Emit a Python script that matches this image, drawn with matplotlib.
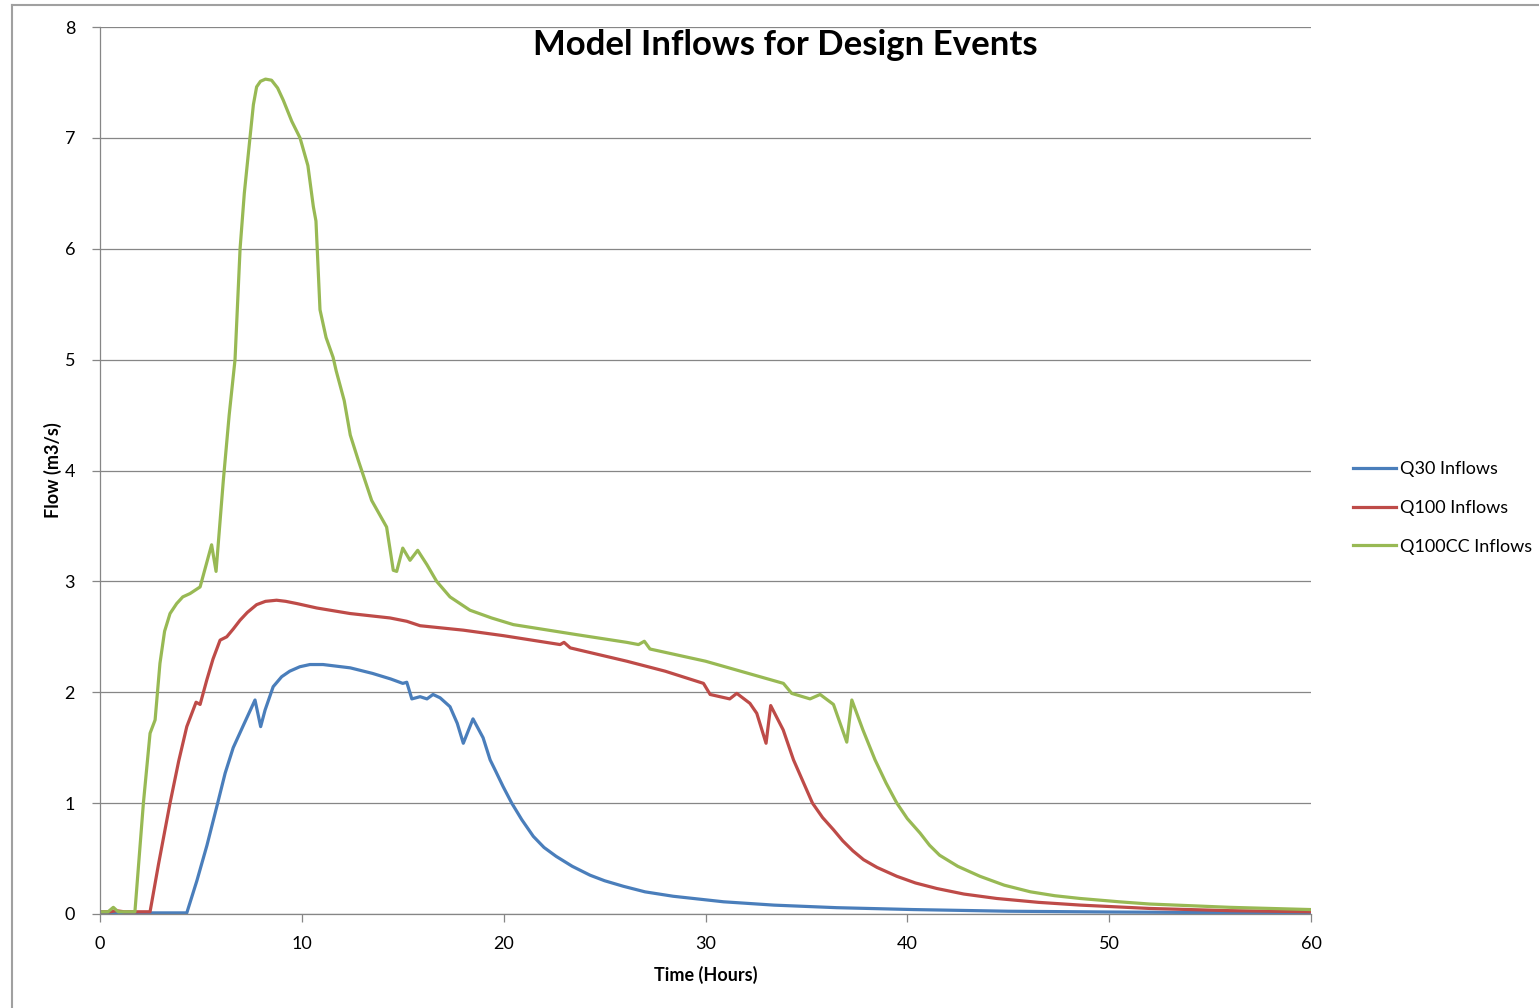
import matplotlib
matplotlib.use("Agg")
import matplotlib.pyplot as plt
from matplotlib.lines import Line2D

plt.rcParams['font.family'] = ['Lato', 'DejaVu Sans']

# Q30 inflows (time in hours, flow in m3/s)
q30_t = [0, 4.3, 4.8, 5.3, 5.83, 6.2, 6.6, 7.1, 7.68, 7.96, 8.18, 8.58, 9.0, 9.4, 9.9,
         10.4, 11.05, 12.4, 13.5, 14.4, 15.0, 15.2, 15.45, 15.86, 16.2, 16.5, 16.85,
         17.34, 17.7, 18.0, 18.48, 18.98, 19.33, 19.6, 19.97, 20.4, 20.9, 21.47, 22.0, 22.6,
         23.4, 24.28, 25.0, 25.93, 27.0, 28.4, 30.9, 33.4, 36.5, 40.3, 45.0, 50, 55, 60]
q30_q = [0.01, 0.01, 0.3, 0.62, 1.0, 1.27, 1.5, 1.7, 1.93, 1.69, 1.84, 2.05, 2.14, 2.19, 2.23,
         2.25, 2.25, 2.22, 2.17, 2.12, 2.08, 2.09, 1.94, 1.96, 1.94, 1.98, 1.95,
         1.87, 1.72, 1.54, 1.76, 1.59, 1.39, 1.29, 1.15, 1.0, 0.85, 0.70, 0.60, 0.52,
         0.43, 0.35, 0.30, 0.25, 0.20, 0.16, 0.11, 0.08, 0.057, 0.04, 0.025, 0.018, 0.013, 0.01]

# Q100 inflows
q100_t = [0, 0.5, 0.8, 1.2, 2.48, 2.9, 3.47, 3.9, 4.3, 4.76, 4.96, 5.29, 5.6, 5.95, 6.28,
          6.6, 6.94, 7.3, 7.76, 8.2, 8.75, 9.2, 9.75, 10.74, 12.39, 14.37, 15.2, 15.86,
          18.0, 20.0, 22.8, 22.99, 23.3, 26.1, 28.0, 29.9, 30.23, 31.2, 31.55, 32.2,
          32.54, 33.0, 33.23, 33.85, 34.36, 35.3, 35.8, 36.34, 36.8, 37.3, 37.83, 38.5,
          39.48, 40.4, 41.46, 42.8, 44.43, 46.5, 48.6, 52, 56, 60]
q100_q = [0.02, 0.02, 0.03, 0.02, 0.02, 0.45, 1.0, 1.38, 1.69, 1.91, 1.89, 2.11, 2.3, 2.47, 2.50,
          2.57, 2.65, 2.72, 2.79, 2.82, 2.83, 2.82, 2.80, 2.76, 2.71, 2.67, 2.64, 2.60,
          2.56, 2.51, 2.43, 2.45, 2.40, 2.28, 2.19, 2.08, 1.98, 1.94, 1.99, 1.90,
          1.81, 1.54, 1.88, 1.66, 1.39, 1.0, 0.87, 0.76, 0.66, 0.57, 0.49, 0.42,
          0.34, 0.28, 0.23, 0.18, 0.14, 0.105, 0.08, 0.05, 0.03, 0.02]

# Q100CC inflows
q100cc_t = [0, 0.4, 0.66, 0.9, 1.73, 2.15, 2.48, 2.73, 2.97, 3.2, 3.47, 3.8, 4.1, 4.46, 4.96,
            5.53, 5.75, 6.11, 6.4, 6.69, 6.94, 7.15, 7.43, 7.6, 7.76, 7.95, 8.2, 8.5, 8.8,
            9.08, 9.5, 9.91, 10.3, 10.57, 10.7, 10.9, 11.2, 11.55, 11.7, 12.1, 12.4, 12.8,
            13.46, 14.2, 14.53, 14.7, 15.0, 15.36, 15.74, 16.2, 16.68, 17.34, 18.33, 19.4,
            20.48, 23.6, 26.1, 26.68, 26.97, 27.25, 30.0, 33.86, 34.27, 35.18, 35.68, 36.34,
            37.0, 37.25, 37.8, 38.4, 38.95, 39.48, 40.0, 40.63, 41.1, 41.6, 42.5, 43.6,
            44.8, 46.1, 47.3, 48.56, 50.5, 52, 56, 60]
q100cc_q = [0.02, 0.02, 0.06, 0.02, 0.02, 1.0, 1.63, 1.75, 2.26, 2.55, 2.71, 2.80, 2.86, 2.89, 2.95,
            3.33, 3.09, 3.91, 4.5, 5.0, 6.0, 6.5, 7.0, 7.3, 7.46, 7.51, 7.53, 7.52, 7.45,
            7.34, 7.15, 7.0, 6.75, 6.38, 6.25, 5.45, 5.2, 5.02, 4.9, 4.63, 4.32, 4.09,
            3.73, 3.49, 3.10, 3.09, 3.30, 3.19, 3.28, 3.15, 3.0, 2.86, 2.74, 2.67,
            2.61, 2.52, 2.45, 2.43, 2.46, 2.39, 2.28, 2.08, 1.99, 1.94, 1.98, 1.89,
            1.55, 1.93, 1.66, 1.39, 1.18, 1.0, 0.86, 0.73, 0.62, 0.53, 0.43, 0.34,
            0.26, 0.20, 0.165, 0.14, 0.11, 0.09, 0.06, 0.04]

series = [
    (q30_t, q30_q, "Q30 Inflows", "#4A7EBB"),
    (q100_t, q100_q, "Q100 Inflows", "#BE4B48"),
    (q100cc_t, q100cc_q, "Q100CC Inflows", "#98B954"),
]

W, H = 1539, 1008
fig = plt.figure(figsize=(W / 100, H / 100), dpi=100)
ax = fig.add_axes([100 / W, 1 - 914 / H, (1311 - 100) / W, (914 - 27) / H])

for t, q, name, col in series:
    ax.plot(t, q, color=col, lw=2.3, label=name, solid_joinstyle='round')

ax.set_xlim(0, 60)
ax.set_ylim(0, 8)
ax.set_xticks(range(0, 61, 10))
ax.set_yticks(range(0, 9))
ax.yaxis.grid(True, color="#868686", lw=0.9)
ax.set_axisbelow(True)
for s in ["top", "right"]:
    ax.spines[s].set_visible(False)
for s in ["left", "bottom"]:
    ax.spines[s].set_color("#868686")
    ax.spines[s].set_linewidth(0.9)
ax.tick_params(axis="y", length=6, width=0.9, color="#868686", pad=12, labelsize=13)
ax.tick_params(axis="x", length=6, width=0.9, color="#868686", pad=10, labelsize=13)

ax.set_xlabel("Time (Hours)", fontsize=13, fontweight="bold", labelpad=10)
ax.set_ylabel("Flow (m3/s)", fontsize=13, fontweight="bold", labelpad=2)

fig.text(785 / W, 1 - 45 / H, "Model Inflows for Design Events", fontsize=25,
         fontweight="bold", ha="center", va="center")

ax.legend(loc="center left", bbox_to_anchor=(1353 / W, 1 - 508 / H),
          bbox_transform=fig.transFigure, frameon=False, fontsize=13,
          handlelength=2.4, handletextpad=0.2, labelspacing=1.25,
          borderaxespad=0, borderpad=0)

# outer chart border (left and top edges visible)
fig.add_artist(Line2D([12 / W, 12 / W], [0, 1 - 5 / H], transform=fig.transFigure,
                      color="#a0a0a0", lw=1.5))
fig.add_artist(Line2D([12 / W, 1], [1 - 5 / H, 1 - 5 / H], transform=fig.transFigure,
                      color="#a0a0a0", lw=1.5))

fig.savefig("out.png", dpi=100)
